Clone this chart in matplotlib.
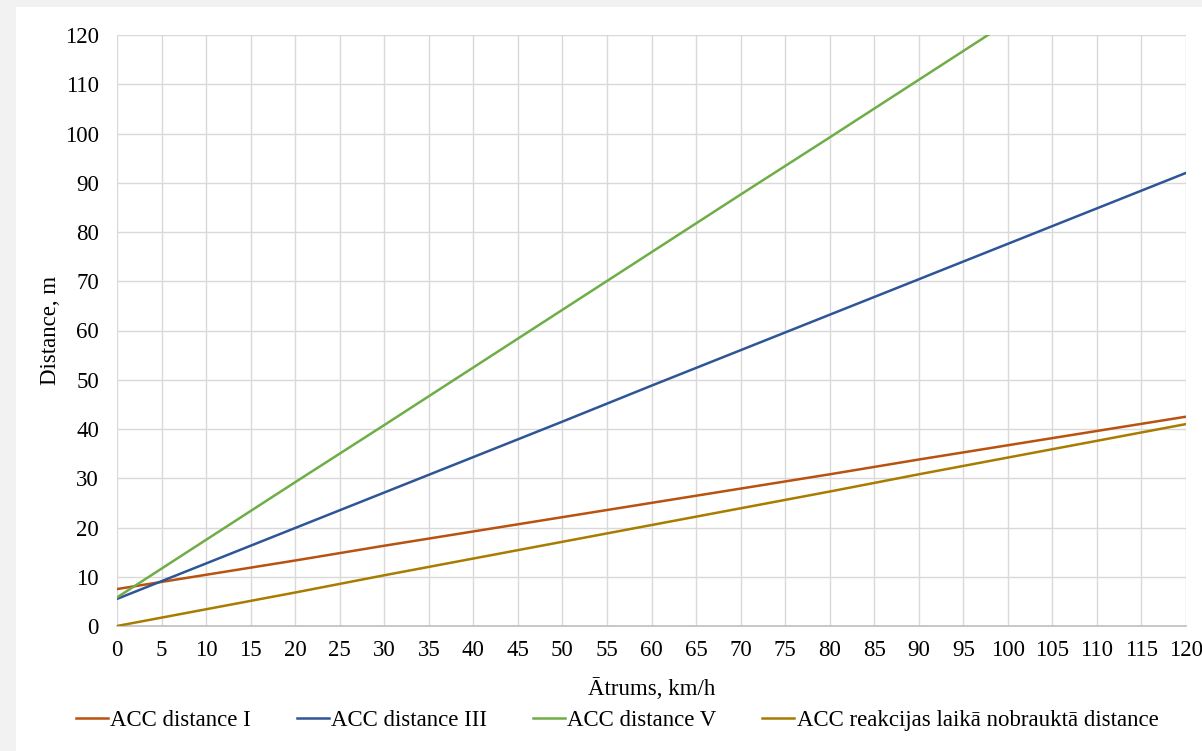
import matplotlib.pyplot as plt
import matplotlib.patches as patches

# speed, km/h
speed = [0, 10, 20, 30, 40, 50, 60, 70, 80, 90, 100, 110, 120]

# distances, m
acc_1 = [7.5, 10.4, 13.3, 16.3, 19.2, 22.1, 25.0, 27.9, 30.8, 33.8, 36.7, 39.6, 42.5]
acc_3 = [5.5, 12.7, 19.9, 27.1, 34.3, 41.5, 48.8, 56.0, 63.2, 70.4, 77.6, 84.8, 92.0]
acc_5 = [5.8, 17.5, 29.2, 40.8, 52.5, 64.2, 75.9, 87.6, 99.2, 110.9, 122.6, 134.3, 146.0]
reaction = [0.0, 3.4, 6.8, 10.3, 13.7, 17.1, 20.5, 23.9, 27.3, 30.8, 34.2, 37.6, 41.0]

labels = ['ACC distance I', 'ACC distance III', 'ACC distance V',
          'ACC reakcijas laikā nobrauktā distance']
colors = ['#B9520F', '#2F5597', '#70AD47', '#A87C00']

plt.rcParams['font.family'] = ['Liberation Serif', 'DejaVu Serif']

fig = plt.figure(figsize=(12.02, 7.51), dpi=100)
fig.patch.set_facecolor('#f2f2f2')
# white chart area
fig.patches.append(patches.Rectangle((16 / 1202, 0), 1 - 16 / 1202, 1 - 7 / 751,
                                     transform=fig.transFigure, facecolor='white',
                                     edgecolor='none', zorder=-5))

ax = fig.add_axes([117 / 1202, 1 - 626 / 751, (1186 - 117) / 1202, (626 - 35) / 751])
ax.set_zorder(2)
ax.set_facecolor('white')

for series, lab, col in zip([acc_1, acc_3, acc_5, reaction], labels, colors):
    ax.plot(speed, series, color=col, lw=1.8, label=lab, zorder=3)

ax.set_xlim(0, 120)
ax.set_ylim(0, 120)
ax.set_xticks(range(0, 121, 5))
ax.set_yticks(range(0, 121, 10))
ax.grid(True, color='#d9d9d9', lw=1.0, zorder=0)
ax.set_axisbelow(True)
for side in ['top', 'right', 'left']:
    ax.spines[side].set_visible(False)
ax.spines['bottom'].set_color('#bfbfbf')
ax.spines['bottom'].set_linewidth(1.2)
ax.tick_params(length=0, labelsize=16.5, colors='black')
ax.tick_params(axis='x', pad=10)
ax.tick_params(axis='y', pad=13)

ax.set_xlabel('Ātrums, km/h', fontsize=16.5, labelpad=12)
ax.set_ylabel('Distance, m', fontsize=16.5, labelpad=3)

fig.legend(loc='center', bbox_to_anchor=(617 / 1202, 1 - 720 / 751), ncol=4, frameon=False,
           fontsize=16.5, handlelength=1.4, handletextpad=0.1, columnspacing=2.0)

plt.savefig('out.png', dpi=100, facecolor=fig.get_facecolor())
